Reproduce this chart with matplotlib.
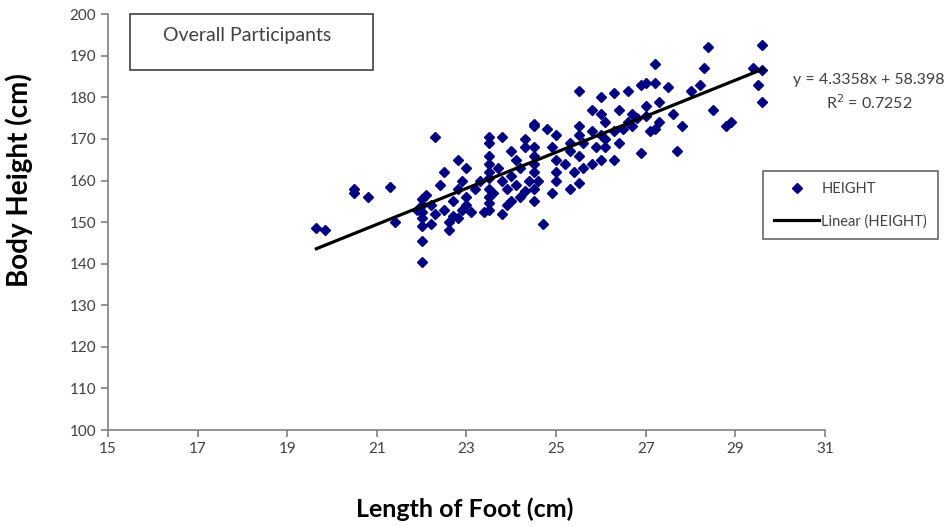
import matplotlib
matplotlib.use("Agg")
import matplotlib.pyplot as plt
from matplotlib.patches import Rectangle

plt.rcParams['font.family'] = ['Lato', 'DejaVu Sans']

# foot length (cm)
foot = [19.65, 19.85,
        20.5, 20.5, 20.8,
        21.3, 21.4,
        22.0, 22.0, 22.0, 22.0, 22.0, 22.0, 22.0, 21.9, 22.1,
        22.3, 22.2, 22.3, 22.2, 22.4,
        22.5, 22.5, 22.6, 22.6, 22.7, 22.7,
        22.8, 22.9, 22.8, 22.9, 22.8,
        23.0, 23.0, 23.0, 23.1, 23.2, 23.3,
        23.5, 23.5, 23.5, 23.5, 23.5, 23.5, 23.5, 23.5, 23.5, 23.5, 23.4, 23.6,
        23.8, 23.7, 23.8, 23.9, 23.9, 23.8,
        24.0, 24.1, 24.2, 24.0, 24.1, 24.0,
        24.3, 24.3, 24.3, 24.4, 24.2,
        24.5, 24.5, 24.5, 24.5, 24.5, 24.5, 24.6, 24.5, 24.5, 24.7,
        24.8, 25.0, 24.9, 25.0, 25.0, 25.0, 24.9,
        25.3, 25.2, 25.3, 25.4, 25.3,
        25.5, 25.5, 25.5, 25.6, 25.5, 25.6, 25.5,
        25.8, 25.8, 25.9, 25.8,
        26.0, 26.0, 26.1, 26.0, 26.1, 26.0, 26.1,
        26.3, 26.4, 26.3, 26.5, 26.4, 26.3,
        26.6, 26.7, 26.6, 26.7, 26.8,
        26.9, 27.0, 27.0, 27.0, 26.9, 27.1,
        27.2, 27.2, 27.3, 27.3, 27.2,
        27.5, 27.6, 27.7, 27.8,
        28.0, 28.2, 28.3, 28.4, 28.5,
        28.8, 28.9,
        29.4, 29.5, 29.6, 29.6, 29.6]

# body height (cm)
height = [148.5, 148,
          158, 157, 156,
          158.5, 150,
          140.5, 145.5, 149, 151, 152.5, 154, 155.5, 153, 156.5,
          170.5, 154, 152, 149.5, 159,
          162, 153, 150, 148, 155, 151.5,
          165, 160, 158, 153, 151,
          163, 156, 154, 152.5, 158, 160,
          170.5, 169, 166, 164, 162, 160.5, 158, 156, 154.5, 153, 152.5, 157,
          170.5, 163, 160, 158, 154, 152,
          167, 165, 163, 161, 159, 155,
          170, 168, 157.5, 160, 156,
          173.5, 173, 168, 166, 164, 162, 160, 158, 155, 149.5,
          172.5, 171, 168, 165, 162, 160, 157,
          167, 164, 169, 162, 158,
          181.5, 173, 171, 169, 166, 163, 159.5,
          177, 172, 168, 164,
          180, 176, 174, 171, 168, 165, 170,
          181, 177, 172, 172.5, 169, 165,
          181.5, 176, 174, 173, 175,
          183, 183.5, 178, 175.5, 166.5, 172,
          188, 183.5, 179, 174, 172.5,
          182.5, 176, 167, 173,
          181.5, 183, 187, 192, 177,
          173, 174,
          187, 183, 192.5, 179, 186.5]

# trend line coefficients shown on the chart
slope = 4.3358
intercept = 58.398
r2 = 0.7252

fig = plt.figure(figsize=(9.5, 5.26), dpi=100)
ax = fig.add_axes([0.1137, 0.1825, 0.7547, 0.7905])

ax.plot(foot, height, 'D', color='#000080', markersize=4.8, label='HEIGHT', zorder=3)
x_fit = [min(foot), max(foot)]
y_fit = [slope * v + intercept for v in x_fit]
ax.plot(x_fit, y_fit, color='black', linewidth=2.3, label='Linear (HEIGHT)', zorder=4)

ax.set_xlim(15, 31)
ax.set_ylim(100, 200)
ax.set_xticks(range(15, 32, 2))
ax.set_yticks(range(100, 201, 10))
for s in ['top', 'right']:
    ax.spines[s].set_visible(False)
for s in ['left', 'bottom']:
    ax.spines[s].set_color('#808080')
    ax.spines[s].set_linewidth(1.2)
ax.tick_params(axis='both', colors='#808080', labelcolor='#404040', labelsize=11, length=5, width=1.2)

ax.set_xlabel('Length of Foot (cm)', fontsize=18, fontweight='bold', color='black')
ax.set_ylabel('Body Height (cm)', fontsize=20, fontweight='bold', color='black')
ax.xaxis.set_label_coords(0.497, -0.163)
ax.yaxis.set_label_coords(-0.104, 0.6)

# title box
fig.patches.append(Rectangle((130 / 950, 1 - 70 / 526), 243 / 950, 56 / 526,
                             transform=fig.transFigure, fill=False,
                             edgecolor='#404040', linewidth=1.2))
fig.text(163 / 950, 1 - 35 / 526, 'Overall Participants', fontsize=14,
         color='#404040', va='center', ha='left')

fig.text(869 / 950, 1 - 80 / 526, 'y = %.4fx + %.3f' % (slope, intercept),
         fontsize=11.5, color='#404040', ha='center', va='center')
fig.text(869 / 950, 1 - 103 / 526, 'R$^2$ = %.4f' % r2,
         fontsize=11.5, color='#404040', ha='center', va='center')

leg = ax.legend(loc='upper left', bbox_to_anchor=(763 / 950, 1 - 171 / 526),
                bbox_transform=fig.transFigure, fontsize=10.5, frameon=True,
                fancybox=False, edgecolor='#404040', handlelength=3.1,
                labelspacing=1.25, borderpad=0.75, handletextpad=0.15,
                borderaxespad=0)
leg.get_frame().set_linewidth(1.2)
for t in leg.get_texts():
    t.set_color('#404040')

fig.savefig('out.png', dpi=100)
